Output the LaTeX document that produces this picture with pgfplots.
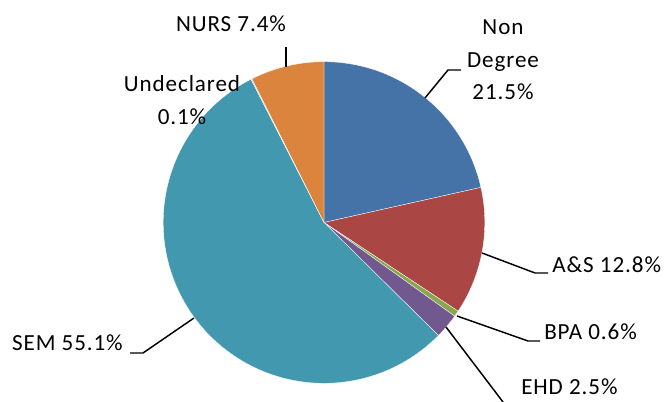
\documentclass[border=0pt]{standalone}
\usepackage{pgfplots}
\pgfplotsset{compat=1.18}
\usepackage{pgfplotstable}
\usepackage{fontspec}
\setmainfont{Carlito}[LetterSpace=4]
\definecolor{c1}{HTML}{4572A7}
\definecolor{c2}{HTML}{AA4643}
\definecolor{c3}{HTML}{89A54E}
\definecolor{c4}{HTML}{71588F}
\definecolor{c5}{HTML}{4198AF}
\definecolor{c6}{HTML}{93A9CF}
\definecolor{c7}{HTML}{DB843D}
\tikzset{lbl/.style={font=\fontsize{17.3}{24.4}\selectfont, text=black, inner sep=0pt}}
\pgfplotstableread{
label pct
NonDegree 21.5
AS 12.8
BPA 0.6
EHD 2.5
SEM 55.1
Undeclared 0.1
NURS 7.4
}\piedata
\begin{document}
\begin{tikzpicture}
\useasboundingbox (0,0) rectangle (501pt,301.5pt);
\begin{axis}[
  x=0.75pt, y=0.75pt,
  xmin=0, xmax=668, ymin=0, ymax=402,
  at={(0,0)}, anchor=origin,
  hide axis, clip=false,
]
\def\startang{90}
\pgfplotsforeachungrouped \i in {0,...,6} {
  \pgfplotstablegetelem{\i}{pct}\of\piedata
  \pgfmathsetmacro{\endang}{\startang-3.6*\pgfplotsretval}
  \pgfmathtruncatemacro{\ci}{\i+1}
  \edef\temp{\noexpand\fill[c\ci, draw=white, line width=0.25pt]
    (axis cs:324,179.5) -- ++(\startang:120.6pt)
    arc[start angle=\startang, end angle=\endang, radius=120.6pt] -- cycle;}
  \temp
  \global\let\startang\endang
}
% leader lines
\draw[line width=1.1pt] (axis cs:425,304) -- (axis cs:448,332) -- (axis cs:461,332);
\draw[line width=1.1pt] (axis cs:286,355) -- (axis cs:286,335);
\draw[line width=1.1pt] (axis cs:482,149) -- (axis cs:535,129) -- (axis cs:548,129);
\draw[line width=1.1pt] (axis cs:457,86) -- (axis cs:528,61) -- (axis cs:540,61);
\draw[line width=1.1pt] (axis cs:446,75) -- (axis cs:503,0);
\draw[line width=1.1pt] (axis cs:194,84) -- (axis cs:143,49) -- (axis cs:130,49);
% labels
\node[lbl] at (axis cs:231,378) {NURS 7.4\%};
\node[lbl, align=center] at (axis cs:182,302) {Undeclared\\0.1\%};
\node[lbl, align=center] at (axis cs:503,342) {Non\\Degree\\21.5\%};
\node[lbl, anchor=west] at (axis cs:552,137) {A\&S 12.8\%};
\node[lbl, anchor=west] at (axis cs:544,70) {BPA 0.6\%};
\node[lbl, anchor=west] at (axis cs:521,15) {EHD 2.5\%};
\node[lbl, anchor=east] at (axis cs:123,59) {SEM 55.1\%};
\end{axis}
\end{tikzpicture}
\end{document}
